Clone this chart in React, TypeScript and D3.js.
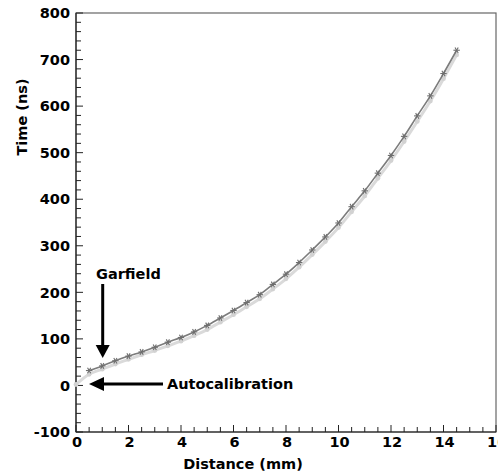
import React from "react";
import * as d3 from "d3";

const garfieldX = [0.5,1,1.5,2,2.5,3,3.5,4,4.5,5,5.5,6,6.5,7,7.5,8,8.5,9,9.5,10,10.5,11,11.5,12,12.5,13,13.5,14,14.5];
const garfieldY = [32,42,53,63,72,82,93,103,115,129,145,161,178,195,217,239,264,291,319,349,384,418,456,494,535,579,622,670,720];
const autoX = [0,0.5,1,1.5,2,2.5,3,3.5,4,4.5,5,5.5,6,6.5,7,7.5,8,8.5,9,9.5,10,10.5,11,11.5,12,12.5,13,13.5,14,14.5];
const autoY = [2,24,35,46,56,66,75,85,95,107,120,136,152,169,186,207,229,254,281,309,339,373,407,445,483,524,567,611,659,710];
const xTicks = [0,2,4,6,8,10,12,14,16];
const yTicks = [-100,0,100,200,300,400,500,600,700,800];

const W = 498, H = 472;
const L = 76, R = 496, T = 13, B = 432;
const FONT = "'DejaVu Sans', Verdana, sans-serif";

export default function App() {
  const x = d3.scaleLinear().domain([0, 16]).range([L, R]);
  const y = d3.scaleLinear().domain([-100, 800]).range([B, T]);
  const line = d3.line<number>().x((_, i) => 0).y(() => 0);
  const gLine = d3.line<[number, number]>().x(d => x(d[0])).y(d => y(d[1])).curve(d3.curveMonotoneX);
  const gPts: [number, number][] = garfieldX.map((v, i) => [v, garfieldY[i]]);
  const aPts: [number, number][] = autoX.map((v, i) => [v, autoY[i]]);
  const xMinor = d3.range(0, 16.001, 0.5);
  const yMinor = d3.range(-100, 800.001, 20);
  const star = (cx: number, cy: number, k: number) => {
    const s = 3.2;
    return (
      <g key={k} stroke="#6e6e6e" strokeWidth={1.1}>
        <line x1={cx - s} y1={cy} x2={cx + s} y2={cy} />
        <line x1={cx - s * 0.5} y1={cy - s * 0.87} x2={cx + s * 0.5} y2={cy + s * 0.87} />
        <line x1={cx - s * 0.5} y1={cy + s * 0.87} x2={cx + s * 0.5} y2={cy - s * 0.87} />
      </g>
    );
  };
  void line;
  return (
    <svg width={W} height={H} style={{ position: "absolute", left: 0, top: 0, background: "#fff" }} fontFamily={FONT} fontWeight="bold">
      {/* frame */}
      <rect x={L} y={T} width={R - L} height={B - T} fill="none" stroke="#666" strokeWidth={1.2} />
      <line x1={L} y1={T} x2={L} y2={B} stroke="#222" strokeWidth={1.2} />
      <line x1={L} y1={B} x2={R} y2={B} stroke="#222" strokeWidth={1.2} />
      {/* y ticks */}
      {yMinor.map((v, i) => {
        const major = Math.abs(v % 100) < 1e-6;
        return <line key={"ym" + i} x1={L} x2={L + (major ? 7 : 5)} y1={y(v)} y2={y(v)} stroke="#222" strokeWidth={1} />;
      })}
      {xMinor.map((v, i) => {
        const major = Math.abs(v % 2) < 1e-6;
        return <line key={"xm" + i} x1={x(v)} x2={x(v)} y1={B} y2={B - (major ? 7 : 5)} stroke="#222" strokeWidth={1} />;
      })}
      {yTicks.map(v => (
        <text key={"yl" + v} x={L - 6} y={y(v)} dy="0.36em" textAnchor="end" fontSize={14.5} fill="#000">{v}</text>
      ))}
      {xTicks.map(v => (
        <text key={"xl" + v} x={x(v) + 1} y={447} textAnchor="middle" fontSize={14.5} fill="#000">{v}</text>
      ))}
      <text x={243} y={469} textAnchor="middle" fontSize={14.5} fill="#000">Distance (mm)</text>
      <text transform={`translate(27,117) rotate(-90)`} textAnchor="middle" fontSize={14.5} fill="#000">Time (ns)</text>
      {/* autocalibration series */}
      <path d={gLine(aPts) || ""} fill="none" stroke="#dadada" strokeWidth={3} />
      {aPts.map((p, i) => (
        <circle key={"a" + i} cx={x(p[0])} cy={y(p[1])} r={2.4} fill="#d2d2d2" />
      ))}
      {/* garfield series */}
      <path d={gLine(gPts) || ""} fill="none" stroke="#7c7c7c" strokeWidth={1.6} />
      {gPts.map((p, i) => star(x(p[0]), y(p[1]), i))}
      {/* annotations */}
      <text x={96} y={279} fontSize={14.5} fill="#000">Garfield</text>
      <line x1={102.7} y1={284} x2={102.7} y2={346} stroke="#000" strokeWidth={3} />
      <path d="M95.7,345 L109.7,345 L102.7,358 Z" fill="#000" />
      <line x1={103} y1={384} x2={163} y2={384} stroke="#000" strokeWidth={3} />
      <path d="M104,377 L104,391 L89,384 Z" fill="#000" />
      <text x={167} y={389} fontSize={14.5} fill="#000">Autocalibration</text>
    </svg>
  );
}
